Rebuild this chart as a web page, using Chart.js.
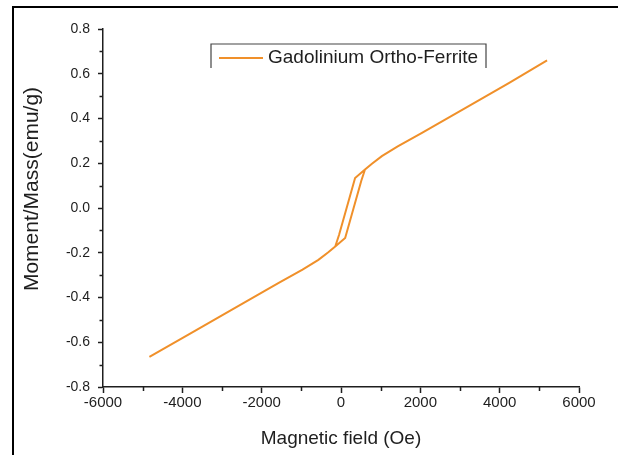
<!DOCTYPE html>
<html>
<head>
<meta charset="utf-8">
<script src="https://cdn.jsdelivr.net/npm/chart.js@4/dist/chart.umd.min.js"></script>
<style>
body { margin: 0; background: #fff; }
</style>
</head>
<body>
<canvas id="loopChart" width="618" height="455"></canvas>
<script>
var seriesName = 'Gadolinium Ortho-Ferrite';
var xTitle = 'Magnetic field (Oe)';
var yTitle = 'Moment/Mass(emu/g)';

// descending branch, +H to -H
var fieldDown = [5195, 4230, 3230, 2030, 1430, 1030, 780, 605, 355, -50, -145, -320, -570, -970, -1570, -2770, -3770, -4830];
var momentDown = [0.66, 0.558, 0.456, 0.335, 0.275, 0.232, 0.198, 0.172, 0.134, -0.121, -0.172, -0.198, -0.232, -0.275, -0.335, -0.456, -0.558, -0.665];

// ascending branch, -H back to +H
var fieldUp = [-4830, -3770, -2770, -1570, -970, -570, -320, -145, 105, 510, 605, 780, 1030, 1430, 2030, 3230, 4230, 5195];
var momentUp = [-0.665, -0.558, -0.456, -0.335, -0.275, -0.232, -0.198, -0.172, -0.134, 0.121, 0.172, 0.198, 0.232, 0.275, 0.335, 0.456, 0.558, 0.66];

var xMinorTicks = [-5000, -3000, -1000, 1000, 3000, 5000];
var yMinorTicks = [-0.7, -0.5, -0.3, -0.1, 0.1, 0.3, 0.5, 0.7];

var lineColor = '#f0902a';
var inkColor = '#1e1e1e';
var fontFamily = 'Arial, "Liberation Sans", sans-serif';

function makePoints(xs, ys) {
    var pts = [];
    for (var i = 0; i < xs.length; i++) {
        pts.push({x: xs[i], y: ys[i]});
    }
    return pts;
}

var loopPoints = makePoints(fieldDown, momentDown).concat(makePoints(fieldUp, momentUp));

// white page with the black frame on top and left
var framePlugin = {
    id: 'frame',
    beforeDraw: function(chart) {
        var ctx = chart.ctx;
        ctx.save();
        ctx.fillStyle = '#fff';
        ctx.fillRect(0, 0, chart.width, chart.height);
        ctx.strokeStyle = '#000';
        ctx.lineWidth = 2;
        ctx.beginPath();
        ctx.moveTo(13, chart.height);
        ctx.lineTo(13, 7);
        ctx.lineTo(chart.width, 7);
        ctx.stroke();
        ctx.restore();
    }
};

var minorTickPlugin = {
    id: 'minorTicks',
    afterDraw: function(chart) {
        var ctx = chart.ctx;
        var xs = chart.scales.x, ys = chart.scales.y;
        ctx.save();
        ctx.strokeStyle = inkColor;
        ctx.lineWidth = 1.5;
        ctx.beginPath();
        for (var i = 0; i < xMinorTicks.length; i++) {
            var px = Math.round(xs.getPixelForValue(xMinorTicks[i])) + 0.5;
            ctx.moveTo(px, chart.chartArea.bottom);
            ctx.lineTo(px, chart.chartArea.bottom + 4);
        }
        for (var j = 0; j < yMinorTicks.length; j++) {
            var py = Math.round(ys.getPixelForValue(yMinorTicks[j])) + 0.5;
            ctx.moveTo(chart.chartArea.left, py);
            ctx.lineTo(chart.chartArea.left - 3.5, py);
        }
        ctx.stroke();

        // y axis title, sits a bit above the middle in the original
        ctx.fillStyle = inkColor;
        ctx.font = '21px ' + fontFamily;
        ctx.textAlign = 'center';
        ctx.textBaseline = 'middle';
        ctx.translate(32, 189);
        ctx.rotate(-Math.PI / 2);
        ctx.fillText(yTitle, 0, 0);
        ctx.restore();
    }
};

// open-bottomed legend box like the original
var legendPlugin = {
    id: 'boxLegend',
    afterDraw: function(chart) {
        var ctx = chart.ctx;
        var ds = chart.data.datasets[0];
        ctx.save();
        ctx.strokeStyle = '#444';
        ctx.lineWidth = 1.2;
        ctx.beginPath();
        ctx.moveTo(211, 68);
        ctx.lineTo(211, 44);
        ctx.lineTo(486, 44);
        ctx.lineTo(486, 68);
        ctx.stroke();
        ctx.strokeStyle = ds.borderColor;
        ctx.lineWidth = 2;
        ctx.beginPath();
        ctx.moveTo(219, 58);
        ctx.lineTo(263, 58);
        ctx.stroke();
        ctx.fillStyle = inkColor;
        ctx.font = '19px ' + fontFamily;
        ctx.textBaseline = 'middle';
        ctx.fillText(ds.label, 268, 58);
        ctx.restore();
    }
};

var ctx = document.getElementById('loopChart').getContext('2d');

var loopChart = new Chart(ctx, {
    type: 'scatter',
    data: {
        datasets: [{
            label: seriesName,
            data: loopPoints,
            showLine: true,
            borderColor: lineColor,
            backgroundColor: lineColor,
            borderWidth: 2,
            pointRadius: 0,
            tension: 0
        }]
    },
    options: {
        responsive: false,
        animation: false,
        layout: {padding: {left: 14, right: 39, top: 29, bottom: 0}},
        plugins: {
            legend: {display: false},
            tooltip: {enabled: false}
        },
        scales: {
            x: {
                type: 'linear',
                min: -6000,
                max: 6000,
                afterFit: function(s) { s.height = 68; },
                ticks: {
                    stepSize: 2000,
                    color: inkColor,
                    padding: 1,
                    font: {family: fontFamily, size: 15},
                    callback: function(v) { return String(v); }
                },
                grid: {drawOnChartArea: false, tickLength: 6, tickColor: inkColor, tickWidth: 1.5},
                border: {color: inkColor, width: 1.5},
                title: {
                    display: true,
                    text: xTitle,
                    color: inkColor,
                    font: {family: fontFamily, size: 19},
                    padding: {top: 0, bottom: 5}
                }
            },
            y: {
                min: -0.8,
                max: 0.8,
                afterFit: function(s) { s.width = 89; },
                ticks: {
                    stepSize: 0.2,
                    color: inkColor,
                    padding: 8,
                    font: {family: fontFamily, size: 14},
                    callback: function(v) { return v.toFixed(1); }
                },
                grid: {drawOnChartArea: false, tickLength: 5, tickColor: inkColor, tickWidth: 1.5},
                border: {color: inkColor, width: 1.5}
            }
        }
    },
    plugins: [framePlugin, minorTickPlugin, legendPlugin]
});
</script>
</body>
</html>
